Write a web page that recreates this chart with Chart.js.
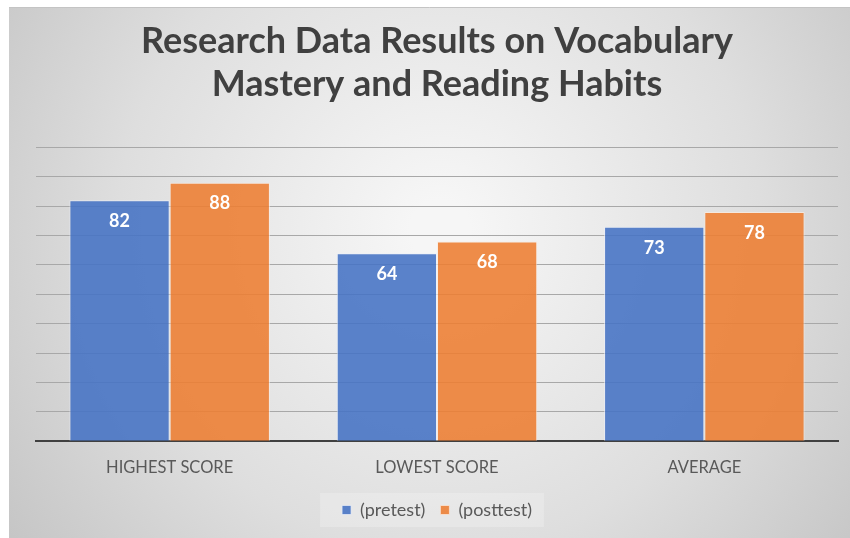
<!DOCTYPE html>
<html>
<head>
<meta charset="utf-8">
<script src="https://cdn.jsdelivr.net/npm/chart.js@4"></script>
<style>
  html, body { margin: 0; padding: 0; background: #fff; }
  #wrap { width: 850px; height: 538px; }
</style>
</head>
<body>
<div id="wrap"><canvas id="chart" width="850" height="538"></canvas></div>
<script>
// --- DATA ---
const categories = ['HIGHEST SCORE', 'LOWEST SCORE', 'AVERAGE'];
const pretest = [82, 64, 73];
const posttest = [88, 68, 78];
const seriesNames = ['(pretest)', '(posttest)'];
const titleLines = ['Research Data Results on Vocabulary', 'Mastery and Reading Habits'];

// background panel + legend box
const backdrop = {
    id: 'backdrop',
    beforeDraw(chart) {
        const ctx = chart.ctx;
        const x0 = 9, y0 = 7, w = chart.width - x0, h = chart.height - y0;
        ctx.save();
        const g = ctx.createRadialGradient(440, 230, 30, 440, 230, 560);
        g.addColorStop(0, '#f6f6f6');
        g.addColorStop(0.55, '#dedede');
        g.addColorStop(1, '#c2c2c2');
        ctx.fillStyle = g;
        ctx.fillRect(x0, y0, w, h);
        ctx.strokeStyle = '#c4c4c4';
        ctx.lineWidth = 1;
        ctx.beginPath(); ctx.moveTo(x0, y0 + 0.5); ctx.lineTo(chart.width, y0 + 0.5); ctx.stroke();

        const boxes = chart.legend.legendHitBoxes;
        if (boxes && boxes.length) {
            const first = boxes[0], last = boxes[boxes.length - 1];
            ctx.fillStyle = 'rgba(255,255,255,0.22)';
            ctx.fillRect(first.left - 22, first.top - 8, last.left + last.width - first.left + 34, first.height + 16);
        }
        ctx.restore();
    }
};

// value labels inside top of bars
const barLabels = {
    id: 'barLabels',
    afterDatasetsDraw(chart) {
        const ctx = chart.ctx;
        ctx.save();
        ctx.font = 'bold 18px Lato';
        ctx.fillStyle = '#ffffff';
        ctx.textAlign = 'center';
        ctx.textBaseline = 'middle';
        chart.data.datasets.forEach((ds, i) => {
            chart.getDatasetMeta(i).data.forEach((bar, j) => {
                ctx.fillText(ds.data[j], bar.x, bar.y + 21);
            });
        });
        ctx.restore();
    }
};

new Chart(document.getElementById('chart'), {
    type: 'bar',
    data: {
        labels: categories,
        datasets: [
            { label: seriesNames[0], data: pretest, backgroundColor: 'rgba(68,114,196,0.88)', borderColor: 'rgba(235,240,250,0.7)', borderWidth: 1 },
            { label: seriesNames[1], data: posttest, backgroundColor: 'rgba(237,125,49,0.88)', borderColor: 'rgba(252,235,222,0.7)', borderWidth: 1 }
        ]
    },
    options: {
        responsive: false,
        animation: false,
        layout: { padding: { left: 36, right: 12, top: 8, bottom: 9 } },
        datasets: { bar: { categoryPercentage: 0.75, barPercentage: 1 } },
        plugins: {
            title: {
                display: true,
                text: titleLines,
                color: '#404040',
                font: { family: 'Lato', size: 36, weight: 'bold', lineHeight: 1.2 },
                padding: { top: 12, bottom: 41 }
            },
            legend: {
                position: 'bottom',
                labels: {
                    color: '#595959',
                    font: { family: 'Lato', size: 18 },
                    boxWidth: 9, boxHeight: 9,
                    padding: 15
                }
            },
            tooltip: { enabled: false }
        },
        scales: {
            x: {
                grid: { display: false },
                border: { color: '#404040', width: 2 },
                ticks: { color: '#595959', font: { family: 'Lato', size: 16.5 }, padding: 9 },
                afterFit(scale) { scale.height -= 1; }
            },
            y: {
                min: 0, max: 100,
                ticks: { display: false, stepSize: 10 },
                grid: { color: '#a8a8a8', lineWidth: 1, drawTicks: false },
                border: { display: false }
            }
        }
    },
    plugins: [backdrop, barLabels]
});
</script>
</body>
</html>
